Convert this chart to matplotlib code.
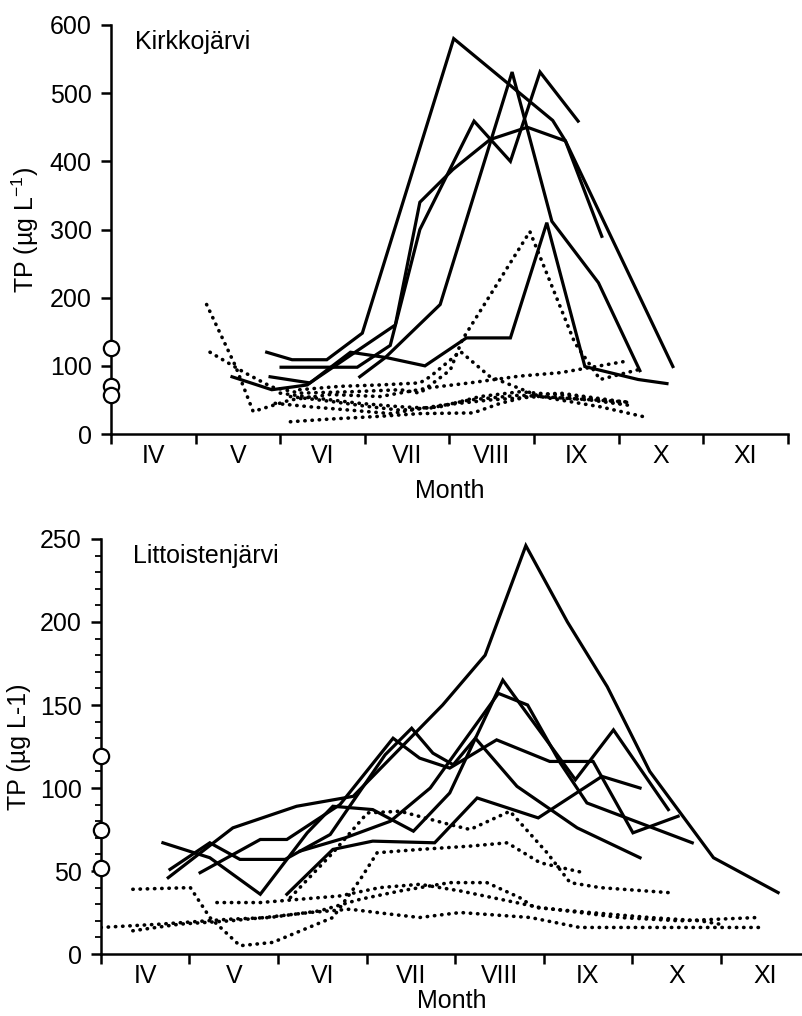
import numpy as np
import matplotlib
matplotlib.use("Agg")
import matplotlib.pyplot as plt
from matplotlib.ticker import MultipleLocator, FixedLocator, NullFormatter

plt.rcParams['font.family'] = ['Liberation Sans', 'DejaVu Sans']
plt.rcParams['mathtext.fontset'] = 'custom'
plt.rcParams['mathtext.rm'] = 'Liberation Sans'

months = ['IV', 'V', 'VI', 'VII', 'VIII', 'IX', 'X', 'XI']

# x values are decimal months (4.0 = start of April)
# Kirkkojärvi, solid lines
kirk_solid = [
    ([5.84, 6.14, 6.55, 6.97, 8.05, 9.22, 9.37, 10.64],
     [120, 109, 109, 148, 580, 460, 430, 99]),
    ([6.01, 6.91, 7.30, 7.65, 8.29, 8.72, 9.07, 9.52],
     [98, 98, 130, 300, 459, 400, 531, 459]),
    ([5.88, 6.35, 7.36, 7.65, 8.04, 8.48, 8.92, 9.37, 9.80],
     [84, 75, 160, 340, 388, 432, 450, 430, 290]),
    ([5.43, 5.90, 6.32, 6.83, 7.26, 7.71, 8.20, 8.72, 9.15, 9.60, 10.23, 10.57],
     [84, 65, 72, 120, 112, 100, 141, 141, 310, 99, 80, 74]),
    ([6.94, 7.24, 7.89, 8.74, 9.21, 9.76, 10.25],
     [84, 112, 190, 531, 312, 222, 93]),
]
# Kirkkojärvi, dotted lines
kirk_dot = [
    ([5.13, 5.47, 5.68, 6.12, 6.59, 7.18, 7.77, 8.24, 8.83, 9.31, 10.05],
     [190, 100, 33, 50, 58, 55, 68, 75, 85, 90, 106]),
    ([5.17, 5.58, 5.90, 6.23, 6.83, 7.42, 7.65, 8.01, 8.15, 8.95, 9.48, 9.78, 10.25],
     [120, 90, 69, 60, 62, 65, 60, 94, 138, 297, 134, 80, 95]),
    ([6.00, 6.47, 6.94, 7.42, 7.77, 8.24, 8.83, 9.31, 10.11],
     [60, 52, 45, 40, 38, 50, 57, 53, 47]),
    ([6.12, 6.59, 7.06, 7.42, 7.89, 8.36, 8.83, 9.54, 10.02],
     [55, 48, 40, 35, 40, 55, 62, 55, 45]),
    ([6.12, 6.59, 7.18, 7.65, 8.28, 8.60, 8.99, 9.31, 9.78, 10.13],
     [18, 22, 26, 30, 31, 45, 57, 60, 52, 46]),
    ([6.23, 6.71, 7.18, 7.65, 7.77, 8.13, 8.48, 9.07, 9.78, 10.31],
     [65, 70, 72, 75, 84, 121, 84, 55, 40, 25]),
    ([5.94, 6.35, 6.83, 7.30, 7.89, 8.48, 9.07, 9.66, 10.13],
     [45, 40, 35, 30, 42, 50, 55, 50, 42]),
]
kirk_circles = [126, 70, 57]

# Littoistenjärvi, solid lines
litt_solid = [
    ([4.76, 5.49, 6.21, 6.85, 7.86, 8.34, 8.80, 9.27, 9.72, 10.20, 10.92, 11.65],
     [46, 76, 89, 95, 150, 180, 246, 200, 161, 110, 58, 37]),
    ([4.78, 5.23, 5.57, 6.08, 6.59, 7.21, 7.51, 7.75, 7.98, 8.23, 8.70, 9.38, 10.09],
     [51, 67, 57, 57, 72, 120, 136, 121, 114, 130, 101, 76, 58]),
    ([4.70, 5.23, 5.80, 6.33, 6.62, 7.07, 7.53, 7.94, 8.54, 8.73, 9.36, 9.79, 10.41],
     [67, 58, 36, 73, 89, 87, 74, 97, 165, 151, 105, 135, 87]),
    ([5.12, 5.80, 6.10, 6.70, 7.30, 7.60, 7.94, 8.47, 9.07, 9.56, 10.01, 10.52],
     [49, 69, 69, 90, 130, 118, 112, 129, 116, 116, 73, 83]),
    ([6.10, 6.62, 7.07, 7.77, 8.25, 8.94, 9.66, 10.09],
     [36, 63, 68, 67, 94, 82, 107, 100]),
    ([6.25, 6.76, 7.27, 7.72, 8.49, 8.82, 9.19, 9.49, 10.68],
     [62, 70, 80, 100, 157, 150, 115, 91, 67]),
]
# Littoistenjärvi, dotted lines
litt_dot = [
    ([4.36, 5.01, 5.23, 5.57, 5.94, 6.62, 6.93, 7.12, 7.60, 8.17, 8.59, 8.96, 9.45],
     [39, 40, 22, 5, 7, 22, 45, 61, 63, 65, 67, 55, 49]),
    ([4.00, 4.67, 5.46, 5.91, 6.47, 6.93, 7.38, 7.94, 8.36, 8.73, 8.90, 9.53, 10.20, 10.77, 10.99],
     [16, 18, 21, 22, 26, 33, 38, 43, 43, 34, 28, 25, 22, 20, 18]),
    ([4.36, 4.89, 5.46, 5.85, 6.36, 6.81, 7.27, 7.60, 8.06, 8.85, 9.41, 10.20, 11.45],
     [14, 18, 20, 22, 25, 27, 24, 22, 25, 22, 16, 16, 16]),
    ([5.31, 5.80, 6.25, 6.70, 7.15, 7.60, 8.06, 8.51, 8.96, 9.41, 9.86, 10.54, 11.42],
     [31, 31, 33, 35, 40, 42, 38, 33, 28, 25, 22, 20, 22]),
    ([6.14, 6.62, 7.01, 7.38, 7.94, 8.17, 8.62, 9.04, 9.30, 9.64, 10.41],
     [34, 61, 85, 86, 78, 75, 86, 61, 43, 40, 37]),
]
litt_circles = [119, 75, 52]

FS = 18
fig = plt.figure(figsize=(8.02, 10.16), dpi=100)
ax1 = fig.add_axes([0.1384, 0.5728, 0.8441, 0.4026])
ax2 = fig.add_axes([0.1259, 0.0610, 0.8741, 0.4085])


def style_axis(ax, xmax, ymax, ystep, yminor, ylabel, name, name_x, xpad):
    for s in ['top', 'right']:
        ax.spines[s].set_visible(False)
    for s in ['left', 'bottom']:
        ax.spines[s].set_linewidth(1.8)
    ax.set_xlim(4, xmax)
    ax.set_ylim(0, ymax)
    ax.xaxis.set_major_locator(FixedLocator(np.arange(4, 13)))
    ax.xaxis.set_major_formatter(NullFormatter())
    ax.xaxis.set_minor_locator(FixedLocator(np.arange(4.5, 12, 1.0)))
    ax.set_xticklabels(months, minor=True)
    ax.tick_params(axis='x', which='major', direction='out', length=7, width=1.8)
    ax.tick_params(axis='x', which='minor', length=0, pad=7, labelsize=FS)
    ax.yaxis.set_major_locator(MultipleLocator(ystep))
    ax.tick_params(axis='y', which='major', direction='out', length=7, width=1.8,
                   labelsize=FS, pad=7)
    if yminor:
        ax.yaxis.set_minor_locator(MultipleLocator(yminor))
        ax.tick_params(axis='y', which='minor', direction='out', length=4, width=1.3)
    ax.set_xlabel('Month', fontsize=FS, labelpad=xpad)
    ax.set_ylabel(ylabel, fontsize=FS, labelpad=6)
    ax.text(name_x, 0.958, name, transform=ax.transAxes, fontsize=FS, va='center')


for xs, ys in kirk_solid:
    ax1.plot(xs, ys, color='black', lw=2.3, solid_joinstyle='miter')
for xs, ys in kirk_dot:
    ax1.plot(xs, ys, color='black', lw=2.6, linestyle=(0, (0.1, 1.9)),
             dash_capstyle='round')
ax1.plot([4] * len(kirk_circles), kirk_circles, 'o', mfc='white', mec='black',
         ms=11, mew=1.6, clip_on=False, zorder=5)
style_axis(ax1, 12, 600, 100, None, 'TP (µg L$^{\\mathregular{-1}}$)',
           'Kirkkojärvi', 0.035, 8)

for xs, ys in litt_solid:
    ax2.plot(xs, ys, color='black', lw=2.3, solid_joinstyle='miter')
for xs, ys in litt_dot:
    ax2.plot(xs, ys, color='black', lw=2.6, linestyle=(0, (0.1, 1.9)),
             dash_capstyle='round')
ax2.plot([4] * len(litt_circles), litt_circles, 'o', mfc='white', mec='black',
         ms=11, mew=1.6, clip_on=False, zorder=5)
style_axis(ax2, 11.92, 250, 50, 10, 'TP (µg L-1)', 'Littoistenjärvi', 0.046, 1)

fig.savefig('out.png', dpi=100)
